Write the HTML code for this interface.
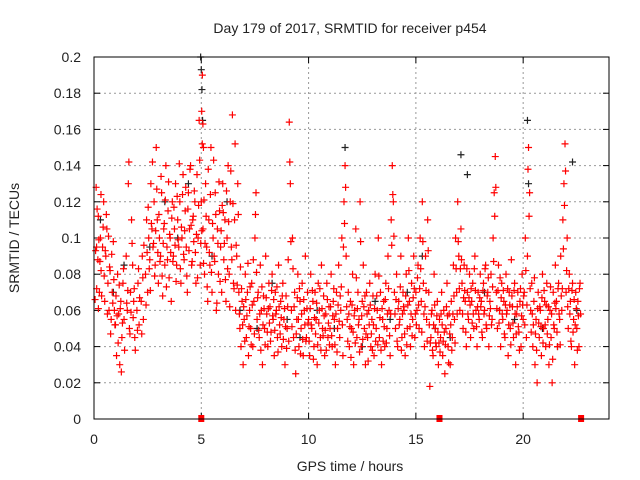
<!DOCTYPE html>
<html><head><meta charset="utf-8"><style>
html,body{margin:0;padding:0;background:#fff;width:640px;height:480px;overflow:hidden}
svg text{font-family:"Liberation Sans",sans-serif;font-size:14px;fill:#222}
</style></head><body>
<svg id="chart" width="640" height="480" xmlns="http://www.w3.org/2000/svg">
<rect width="640" height="480" fill="#fff"/>
<text x="350" y="33" text-anchor="middle">Day 179 of 2017, SRMTID for receiver p454</text>
<text x="350" y="471" text-anchor="middle">GPS time / hours</text>
<text transform="translate(19,238) rotate(-90)" text-anchor="middle">SRMTID / TECUs</text>
<g id="grid"></g>
<g id="ticks"></g>
<g id="blackpts"></g>
<g id="redpts"></g>
<g id="marks"></g>
<rect x="94" y="57" width="515" height="362" fill="none" stroke="#000" stroke-width="1"/>
</svg>
<script>
const xTicks=[0,5,10,15,20];
const yTicks=[0,0.02,0.04,0.06,0.08,0.1,0.12,0.14,0.16,0.18,0.2];
const yTickLabels=["0","0.02","0.04","0.06","0.08","0.1","0.12","0.14","0.16","0.18","0.2"];
const redT=[0.05,0.1,0.12,0.18,0.2,0.25,0.3,0.33,0.4,0.45,0.5,0.55,0.6,0.65,0.7,0.75,0.8,0.85,0.9,0.95,1.0,1.05,1.1,1.15,1.2,1.25,1.3,1.35,1.4,1.5,1.55,1.6,1.65,1.7,1.75,1.8,1.85,1.9,2.0,2.05,2.1,2.2,2.25,2.3,2.4,2.45,2.5,2.55,2.6,2.65,2.7,2.75,2.8,2.85,2.9,2.95,3.0,3.05,3.1,3.15,3.2,3.25,3.3,3.35,3.4,3.45,3.5,3.55,3.6,3.65,3.7,3.75,3.8,3.85,3.9,3.95,4.0,4.05,4.1,4.15,4.2,4.25,4.3,4.35,4.4,4.45,4.5,4.55,4.6,4.65,4.7,4.75,4.8,4.85,4.9,4.95,5.0,5.02,5.05,5.08,5.1,5.15,5.2,5.25,5.3,5.35,5.4,5.45,5.5,5.55,5.6,5.65,5.7,5.75,5.8,5.85,5.9,5.95,6.0,6.05,6.1,6.15,6.2,6.25,6.3,6.35,6.4,6.45,6.5,6.55,6.6,6.65,6.7,6.75,6.8,6.85,6.9,6.95,7.0,7.05,7.1,7.15,7.2,7.25,7.3,7.35,7.4,7.45,7.5,7.55,7.6,7.65,7.7,7.75,7.8,7.85,7.9,7.95,8.0,8.05,8.1,8.15,8.2,8.25,8.3,8.35,8.4,8.45,8.5,8.55,8.6,8.65,8.7,8.75,8.8,8.85,8.9,8.95,9.0,9.05,9.1,9.15,9.2,9.25,9.3,9.35,9.4,9.45,9.5,9.55,9.6,9.65,9.7,9.75,9.8,9.85,9.9,9.95,10.0,10.05,10.1,10.15,10.2,10.25,10.3,10.35,10.4,10.45,10.5,10.55,10.6,10.65,10.7,10.75,10.8,10.85,10.9,10.95,11.0,11.05,11.1,11.15,11.2,11.25,11.3,11.35,11.4,11.45,11.5,11.55,11.6,11.65,11.7,11.75,11.8,11.85,11.9,11.95,12.0,12.05,12.1,12.15,12.2,12.25,12.3,12.35,12.4,12.45,12.5,12.55,12.6,12.65,12.7,12.75,12.8,12.85,12.9,12.95,13.0,13.05,13.1,13.15,13.2,13.25,13.3,13.35,13.4,13.45,13.5,13.55,13.6,13.65,13.7,13.75,13.8,13.85,13.9,13.95,14.0,14.05,14.1,14.15,14.2,14.25,14.3,14.35,14.4,14.45,14.5,14.55,14.6,14.65,14.7,14.75,14.8,14.85,14.9,14.95,15.0,15.05,15.1,15.15,15.2,15.25,15.3,15.35,15.4,15.45,15.5,15.55,15.6,15.65,15.7,15.75,15.8,15.85,15.9,15.95,16.0,16.05,16.1,16.15,16.2,16.25,16.3,16.35,16.4,16.45,16.5,16.55,16.6,16.65,16.7,16.75,16.8,16.85,16.9,16.95,17.0,17.05,17.1,17.15,17.2,17.25,17.3,17.35,17.4,17.45,17.5,17.55,17.6,17.65,17.7,17.75,17.8,17.85,17.9,17.95,18.0,18.05,18.1,18.15,18.2,18.25,18.3,18.35,18.4,18.45,18.5,18.55,18.6,18.65,18.7,18.75,18.8,18.85,18.9,18.95,19.0,19.05,19.1,19.15,19.2,19.25,19.3,19.35,19.4,19.45,19.5,19.55,19.6,19.65,19.7,19.75,19.8,19.85,19.9,19.95,20.0,20.05,20.1,20.15,20.2,20.25,20.3,20.35,20.4,20.45,20.5,20.55,20.6,20.65,20.7,20.75,20.8,20.85,20.9,20.95,21.0,21.05,21.1,21.15,21.2,21.25,21.3,21.35,21.4,21.45,21.5,21.55,21.6,21.65,21.7,21.75,21.8,21.85,21.9,21.95,22.0,22.05,22.1,22.15,22.2,22.25,22.3,22.35,22.4,22.45,22.5,22.55,22.6,22.65];
const redV=[.066,.128,.095,.088,.112,.07,.1,.082,.095,.12,.065,.09,.105,.075,.06,.082,.055,.07,.098,.06,.052,.035,.08,.058,.03,.065,.045,.075,.055,.09,.06,.13,.05,.07,.11,.085,.065,.045,.06,.075,.052,.065,.09,.055,.08,.11,.07,.1,.088,.13,.105,.095,.12,.085,.15,.11,.075,.1,.09,.125,.068,.105,.085,.14,.095,.115,.078,.1,.065,.12,.09,.105,.13,.085,.11,.095,.12,.075,.1,.135,.088,.115,.095,.07,.125,.105,.14,.085,.11,.098,.12,.075,.135,.1,.165,.085,.12,.17,.19,.105,.15,.08,.13,.095,.065,.11,.085,.15,.07,.1,.09,.125,.06,.105,.08,.115,.095,.07,.13,.088,.11,.065,.1,.14,.08,.12,.095,.168,.075,.11,.06,.09,.13,.07,.05,.04,.065,.03,.055,.08,.045,.07,.035,.06,.05,.075,.04,.065,.1,.125,.055,.07,.045,.085,.06,.03,.068,.05,.09,.058,.04,.075,.062,.048,.08,.055,.035,.07,.06,.045,.085,.052,.065,.04,.075,.055,.03,.068,.05,.088,.164,.13,.06,.1,.045,.07,.025,.055,.08,.04,.065,.05,.075,.035,.06,.09,.045,.07,.055,.035,.08,.05,.065,.04,.07,.055,.03,.075,.06,.045,.085,.05,.068,.035,.058,.075,.045,.062,.05,.08,.04,.065,.055,.03,.07,.05,.085,.045,.06,.1,.035,.12,.14,.09,.055,.07,.04,.065,.05,.08,.03,.06,.105,.045,.07,.055,.12,.04,.065,.085,.05,.03,.07,.045,.06,.075,.04,.055,.068,.035,.08,.05,.06,.1,.045,.07,.03,.055,.065,.04,.075,.05,.09,.06,.035,.11,.14,.12,.07,.05,.08,.04,.065,.055,.09,.045,.07,.06,.035,.08,.05,.1,.065,.04,.075,.055,.09,.045,.07,.06,.085,.05,.1,.065,.12,.075,.04,.09,.055,.11,.07,.018,.045,.06,.035,.08,.05,.04,.065,.03,.055,.045,.07,.035,.06,.025,.05,.075,.04,.058,.03,.065,.045,.085,.055,.1,.07,.12,.09,.06,.105,.075,.05,.085,.065,.04,.07,.055,.08,.045,.065,.075,.05,.09,.06,.04,.07,.055,.08,.065,.045,.075,.06,.085,.05,.07,.04,.065,.08,.055,.1,.125,.145,.07,.05,.085,.06,.04,.075,.055,.065,.045,.08,.06,.035,.07,.05,.088,.062,.045,.075,.03,.058,.07,.048,.065,.04,.08,.055,.07,.1,.045,.09,.15,.125,.06,.075,.04,.065,.03,.055,.02,.07,.045,.06,.035,.08,.05,.065,.04,.075,.055,.03,.06,.045,.02,.07,.05,.085,.065,.04,.075,.055,.09,.06,.11,.13,.152,.07,.1,.05,.08,.065,.04,.075,.055,.03,.07,.05,.065,.04,.075];
const redV2=[.093,.072,.116,.061,.099,.087,.124,.068,.106,.079,.093,.113,.058,.101,.084,.047,.091,.064,.077,.052,
.068,.057,.042,.074,.061,.026,.053,.083,.038,.064,.071,.142,.047,.059,.097,.056,.072,.038,
.049,.083,.067,.047,.078,.096,.063,.092,.117,.083,.071,.108,.142,.097,.079,.104,.127,.092,
.113,.087,.134,.079,.097,.108,.121,.073,.088,.131,.102,.092,.111,.087,.117,.096,.076,.123,.099,.141,.083,.106,.124,.091,.104,.128,.079,.116,.093,.138,.107,.087,.112,.126,.092,.102,.078,.118,.143,.097,
.104,.152,.163,.086,.121,.097,.112,.073,.138,.092,.124,.081,.108,.143,.087,.113,.064,.097,.131,.076,.104,.118,
.114,.097,.077,.126,.083,.109,.062,.137,.088,.119,.072,.152,.096,.074,.113,.058,.084,.072,.052,.062,
.043,.066,.057,.086,.051,.073,.041,.063,.088,.047,.113,.081,.067,.049,.058,.038,.073,.052,.061,.041,
.067,.048,.061,.053,.043,.071,.057,.066,.049,.058,.073,.037,.062,.047,.056,.068,.044,.061,.051,.039,
.062,.043,.142,.098,.051,.083,.062,.038,.047,.067,.055,.072,.036,.058,.044,.066,.052,.043,.061,.053,
.043,.061,.052,.071,.033,.056,.047,.064,.041,.053,.072,.038,.061,.046,.057,.049,.038,.066,.053,.041,
.062,.046,.057,.072,.041,.058,.037,.063,.054,.068,.073,.052,.095,.108,.128,.062,.043,.058,.051,.034,
.063,.048,.057,.042,.078,.061,.052,.037,.098,.057,.044,.062,.068,.047,.058,.032,.052,.063,.047,.038,
.052,.061,.043,.068,.041,.079,.056,.038,.061,.043,.051,.066,.042,.058,.072,.046,.058,.096,.124,.101,
.058,.066,.043,.061,.052,.073,.038,.058,.062,.047,.068,.041,.063,.082,.051,.058,.046,.067,.072,.058,
.052,.078,.063,.072,.083,.048,.098,.058,.062,.071,.043,.093,.052,.042,.058,.038,.052,.063,.042,.057,
.048,.042,.037,.058,.052,.043,.048,.041,.062,.057,.031,.047,.052,.038,.058,.068,.042,.083,.058,.098,
.072,.083,.088,.058,.067,.071,.048,.083,.058,.067,.063,.072,.053,.058,.083,.071,.051,.062,.058,.067,
.062,.048,.071,.058,.083,.052,.068,.078,.057,.061,.052,.073,.087,.112,.128,.061,.071,.053,.078,.067,
.058,.071,.047,.063,.058,.072,.052,.063,.041,.068,.053,.071,.058,.047,.062,.051,.038,.072,.057,.063,
.068,.052,.082,.063,.138,.112,.072,.048,.058,.052,.078,.047,.038,.061,.053,.062,.051,.067,.042,.071,
.052,.063,.047,.062,.041,.073,.058,.033,.052,.064,.061,.048,.072,.058,.041,.068,.072,.094,.118,.137,
.082,.062,.072,.058,.043,.071,.048,.066,.052,.061,.038,.057,.072,.058];
const blackT=[0.3,0.9,1.4,2.6,3.3,3.9,4.4,4.97,5.0,5.03,5.06,5.5,6.2,6.8,7.6,8.3,9.0,9.6,10.4,11.2,11.7,12.5,13.1,13.8,14.6,15.3,15.9,16.6,17.1,17.4,18.2,18.9,19.6,20.2,20.25,20.9,21.6,22.3,22.5];
const blackV=[.11,.07,.085,.095,.12,.1,.13,.2,.193,.182,.165,.09,.12,.06,.05,.075,.055,.045,.06,.05,.15,.04,.065,.055,.07,.09,.05,.045,.146,.135,.07,.06,.055,.165,.13,.05,.04,.142,.06];
const markT=[5.0,16.1,22.7];
const X0=94,X1=609,Y0=419,Y1=57,XMAX=24,YMAX=0.2;
const xs=t=>X0+(X1-X0)*t/XMAX, ys=v=>Y0-(Y0-Y1)*v/YMAX;
const NS="http://www.w3.org/2000/svg";
function mk(tag,parent,attrs){const e=document.createElementNS(NS,tag);for(const k in attrs)e.setAttribute(k,attrs[k]);parent.appendChild(e);return e;}
const grid=document.getElementById('grid'),ticks=document.getElementById('ticks');
xTicks.forEach(t=>{const x=xs(t);
 if(t>0){const g=mk('line',grid,{x1:x,x2:x,y1:Y1,y2:Y0,stroke:'#999','stroke-dasharray':'2,3'});
 
 }
 mk('line',ticks,{x1:x,x2:x,y1:Y0,y2:Y0-6,stroke:'#000'});mk('line',ticks,{x1:x,x2:x,y1:Y1,y2:Y1+6,stroke:'#000'});
 const l=mk('text',ticks,{x:x,y:Y0+25,'text-anchor':'middle'});l.textContent=t;
 
 });
yTicks.forEach((v,i)=>{const y=ys(v);
 if(v>0&&v<YMAX){const g=mk('line',grid,{x1:X0,x2:X1,y1:y,y2:y,stroke:'#999','stroke-dasharray':'2,3'});
 
 }
 mk('line',ticks,{x1:X0,x2:X0+6,y1:y,y2:y,stroke:'#000'});mk('line',ticks,{x1:X1,x2:X1-6,y1:y,y2:y,stroke:'#000'});
 const l=mk('text',ticks,{x:81,y:y+5,'text-anchor':'end'});l.textContent=yTickLabels[i];
 
 });
function plus(g,t,v,col,name){const x=xs(t),y=ys(v);
 const p=mk('path',g,{d:`M${x-3.5} ${y}h7M${x} ${y-3.5}v7`,stroke:col,'stroke-width':1.2,fill:'none'});
 
 }
const bg=document.getElementById('blackpts'),rg=document.getElementById('redpts'),mg=document.getElementById('marks');
blackT.forEach((t,i)=>plus(bg,t,blackV[i],'#222','black-point'));
redT.forEach((t,i)=>plus(rg,t,redV[i],'#f00','red-point'));
redT.forEach((t,i)=>{if(redV2[i]!==undefined)plus(rg,t+0.025,redV2[i],'#f00','red-point');});
markT.forEach(t=>{const r=mk('rect',mg,{x:xs(t)-3,y:Y0-4,width:6,height:7,fill:'#f00'});
 
 });
</script>
</body></html>
